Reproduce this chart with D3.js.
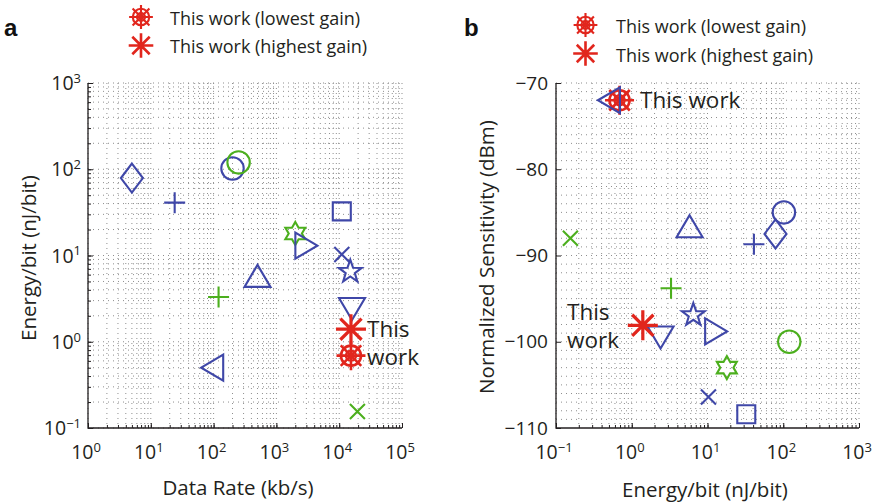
<!DOCTYPE html>
<html>
<head>
<meta charset="utf-8">
<script src="https://cdn.jsdelivr.net/npm/d3@7"></script>
<style>
  html, body { margin: 0; padding: 0; background: #fff; }
  svg { display: block; font-family: "Open Sans", "Noto Sans", sans-serif; }
</style>
</head>
<body>
<svg id="chart" width="875" height="504"></svg>
<script>
// Published receivers compared with this work (one entry per reference)
const markerShape = ["diamond", "plus", "circle", "circle", "square", "hexagram", "triRight", "cross",
  "pentagram", "triUp", "plus", "triDown", "asterisk", "wheel", "triLeft", "cross"];
const markerGroup = ["blue", "blue", "blue", "green", "blue", "green", "blue", "blue",
  "blue", "blue", "green", "blue", "red", "red", "blue", "green"];
const dataRate = [5, 24, 200, 250, 11000, 2000, 3000, 11000, 15000, 500, 120, 16000, 15400, 15400, 95, 19500];
const energyPerBit = [79, 41, 102, 120, 32.5, 18, 13, 10.3, 6.5, 5.8, 3.3, 2.4, 1.4, 0.69, 0.5, 0.155];
const sensitivity = [-87.5, -88.7, -85, -100, -108.4, -103, -98.8, -106.4, -96.9, -86.6, -93.8, -99.5, -98.1, -72, -72, -88];

const rateTicks = [1, 10, 100, 1000, 10000, 100000];
const energyTicksA = [0.1, 1, 10, 100, 1000];
const energyTicksB = [0.1, 1, 10, 100, 1000];
const sensTicks = [-110, -100, -90, -80, -70];

const legendLabels = ["This work (lowest gain)", "This work (highest gain)"];
const legendShapes = ["wheel", "asterisk"];

const colors = { blue: "#3f47a8", green: "#4caf1e", red: "#e1261d" };
const ink = "#231f20";

const svg = d3.select("#chart");

// Marker outlines, centred on the origin
function markerPath(shape) {
  const p = d3.path();
  const poly = pts => { pts.forEach((q, i) => i ? p.lineTo(q[0], q[1]) : p.moveTo(q[0], q[1])); p.closePath(); };
  const star = (n, R, r) => {
    const pts = [];
    for (let i = 0; i < 2 * n; i++) {
      const a = -Math.PI / 2 + i * Math.PI / n;
      const rr = i % 2 ? r : R;
      pts.push([rr * Math.cos(a), rr * Math.sin(a)]);
    }
    poly(pts);
  };
  switch (shape) {
    case "circle": p.moveTo(11.2, 0); p.arc(0, 0, 11.2, 0, 2 * Math.PI); break;
    case "square": p.rect(-9, -9, 18, 18); break;
    case "diamond": poly([[0, -14.5], [11, 0], [0, 14.5], [-11, 0]]); break;
    case "triUp": poly([[0, -11], [13, 11], [-13, 11]]); break;
    case "triDown": poly([[0, 11], [13, -11], [-13, -11]]); break;
    case "triRight": poly([[11, 0], [-11, -13], [-11, 13]]); break;
    case "triLeft": poly([[-11, 0], [11, -13], [11, 13]]); break;
    case "plus": p.moveTo(-10.5, 0); p.lineTo(10.5, 0); p.moveTo(0, -10.5); p.lineTo(0, 10.5); break;
    case "cross": p.moveTo(-7.5, -7.5); p.lineTo(7.5, 7.5); p.moveTo(-7.5, 7.5); p.lineTo(7.5, -7.5); break;
    case "pentagram": star(5, 12, 4.8); break;
    case "hexagram": star(6, 11.5, 6.6); break;
  }
  return p.toString();
}

function spokes(p, R) {
  for (let i = 0; i < 4; i++) {
    const a = i * Math.PI / 4;
    p.moveTo(-R * Math.cos(a), -R * Math.sin(a));
    p.lineTo(R * Math.cos(a), R * Math.sin(a));
  }
}

function drawMarker(g, shape, color, k = 1) {
  if (shape === "asterisk") {
    const p = d3.path(); spokes(p, 15 * k);
    g.append("path").attr("d", p.toString()).attr("fill", "none").attr("stroke", color).attr("stroke-width", 3.2 * k);
  } else if (shape === "wheel") {
    const p = d3.path(); spokes(p, 14.5 * k);
    g.append("path").attr("d", p.toString()).attr("fill", "none").attr("stroke", color).attr("stroke-width", 2.6 * k);
    g.append("circle").attr("r", 10 * k).attr("fill", "none").attr("stroke", color).attr("stroke-width", 2.6 * k);
    g.append("circle").attr("r", 5 * k).attr("fill", "none").attr("stroke", color).attr("stroke-width", 2.4 * k);
  } else {
    g.append("path").attr("d", markerPath(shape)).attr("fill", "none").attr("stroke", color)
      .attr("stroke-width", 2.1).attr("stroke-linejoin", "miter");
  }
}

// Tick label of the form 10^n
function powerLabel(sel, v) {
  const n = Math.round(Math.log10(v));
  sel.text(null);
  sel.append("tspan").text("10");
  sel.append("tspan").attr("dy", "-0.55em").attr("font-size", "13px").text(n < 0 ? "\u2212" + (-n) : n);
}

function logMinor(domain) {
  const vals = [];
  const lo = Math.round(Math.log10(domain[0])), hi = Math.round(Math.log10(domain[1]));
  for (let e = lo; e < hi; e++) for (let m = 1; m < 10; m++) vals.push(m * Math.pow(10, e));
  vals.push(Math.pow(10, hi));
  return vals;
}

function panel(opt) {
  const { left, right, top, bottom, x, y, xGrid, yGrid, xMinor, yMinor } = opt;
  const g = svg.append("g");
  const grid = g.append("g").attr("stroke", "#333").attr("stroke-width", 1)
    .attr("stroke-dasharray", "1,4").attr("opacity", 0.55);
  xGrid.forEach(v => grid.append("line").attr("x1", x(v)).attr("x2", x(v)).attr("y1", top).attr("y2", bottom));
  yGrid.forEach(v => grid.append("line").attr("x1", left).attr("x2", right).attr("y1", y(v)).attr("y2", y(v)));

  // inward axes on the left and bottom edges only
  const axisX = d3.axisTop(x).tickValues(opt.xTicks).tickSize(5).tickFormat("");
  const axisY = d3.axisRight(y).tickValues(opt.yTicks).tickSize(5).tickFormat("");
  const ax = g.append("g").attr("transform", `translate(0,${bottom})`).call(axisX);
  const ay = g.append("g").attr("transform", `translate(${left},0)`).call(axisY);
  [ax, ay].forEach(a => { a.select(".domain").remove(); a.selectAll("line").attr("stroke", ink).attr("stroke-width", 1); });
  if (xMinor) {
    const m = g.append("g").attr("transform", `translate(0,${bottom})`)
      .call(d3.axisTop(x).tickValues(xMinor).tickSize(3).tickFormat(""));
    m.select(".domain").remove(); m.selectAll("line").attr("stroke", ink);
  }
  if (yMinor) {
    const m = g.append("g").attr("transform", `translate(${left},0)`)
      .call(d3.axisRight(y).tickValues(yMinor).tickSize(3).tickFormat(""));
    m.select(".domain").remove(); m.selectAll("line").attr("stroke", ink);
  }
  g.append("path").attr("d", `M${left},${top}V${bottom}H${right}`).attr("fill", "none")
    .attr("stroke", ink).attr("stroke-width", 1.3);
  return g;
}

// ---------- Panel a: energy per bit versus data rate ----------
const xa = d3.scaleLog().domain([1, 1e5]).range([88, 402]);
const ya = d3.scaleLog().domain([0.1, 1000]).range([428, 83]);
const ga = panel({
  left: 88, right: 402, top: 83, bottom: 428, x: xa, y: ya,
  xGrid: logMinor([1, 1e5]), yGrid: logMinor([0.1, 1000]),
  xTicks: rateTicks, yTicks: energyTicksA,
  xMinor: logMinor([1, 1e5]), yMinor: logMinor([0.1, 1000])
});
ga.selectAll(".xt").data(rateTicks).join("text").attr("class", "xt")
  .attr("x", d => xa(d) - 2).attr("y", 459).attr("text-anchor", "middle")
  .attr("font-size", "19.5px").attr("fill", ink).each(function (d) { powerLabel(d3.select(this), d); });
ga.selectAll(".yt").data(energyTicksA).join("text").attr("class", "yt")
  .attr("x", 81).attr("y", d => ya(d) + 7).attr("text-anchor", "end")
  .attr("font-size", "19.5px").attr("fill", ink).each(function (d) { powerLabel(d3.select(this), d); });
ga.append("text").attr("x", 238).attr("y", 495).attr("text-anchor", "middle")
  .attr("font-size", "20.5px").attr("fill", ink).text("Data Rate (kb/s)");
ga.append("text").attr("transform", "translate(36,258) rotate(-90)").attr("text-anchor", "middle")
  .attr("font-size", "20.5px").attr("fill", ink).text("Energy/bit (nJ/bit)");

const ptsA = ga.append("g");
d3.range(dataRate.length).forEach(i => {
  const m = ptsA.append("g").attr("transform", `translate(${xa(dataRate[i])},${ya(energyPerBit[i])})`);
  drawMarker(m, markerShape[i], colors[markerGroup[i]]);
});
ga.append("text").attr("x", 367).attr("y", 337).attr("font-size", "22.5px").attr("fill", ink).text("This");
ga.append("text").attr("x", 367).attr("y", 365).attr("font-size", "22.5px").attr("fill", ink).text("work");

// ---------- Panel b: sensitivity versus energy per bit ----------
const xb = d3.scaleLog().domain([0.1, 1000]).range([556, 859]);
const yb = d3.scaleLinear().domain([-110, -70]).range([428, 83]);
const gb = panel({
  left: 556, right: 859, top: 83, bottom: 428, x: xb, y: yb,
  xGrid: logMinor([0.1, 1000]), yGrid: d3.range(-109, -69, 1),
  xTicks: energyTicksB, yTicks: sensTicks,
  xMinor: logMinor([0.1, 1000]), yMinor: null
});
gb.selectAll(".xt").data(energyTicksB).join("text").attr("class", "xt")
  .attr("x", d => xb(d) - 2).attr("y", 459).attr("text-anchor", "middle")
  .attr("font-size", "19.5px").attr("fill", ink).each(function (d) { powerLabel(d3.select(this), d); });
gb.selectAll(".yt").data(sensTicks).join("text").attr("class", "yt")
  .attr("x", 548).attr("y", d => yb(d) + 6.5).attr("text-anchor", "end")
  .attr("font-size", "19px").attr("fill", ink).text(d => "\u2212" + Math.abs(d));
gb.append("text").attr("x", 705).attr("y", 497).attr("text-anchor", "middle")
  .attr("font-size", "20.5px").attr("fill", ink).text("Energy/bit (nJ/bit)");
gb.append("text").attr("transform", "translate(494,257) rotate(-90)").attr("text-anchor", "middle")
  .attr("font-size", "20.5px").attr("fill", ink).text("Normalized Sensitivity (dBm)");

const ptsB = gb.append("g");
d3.range(energyPerBit.length).forEach(i => {
  const m = ptsB.append("g").attr("transform", `translate(${xb(energyPerBit[i])},${yb(sensitivity[i])})`);
  drawMarker(m, markerShape[i], colors[markerGroup[i]]);
});
gb.append("text").attr("x", 640).attr("y", 108).attr("font-size", "22.5px").attr("fill", ink).text("This work");
gb.append("text").attr("x", 567).attr("y", 320).attr("font-size", "22.5px").attr("fill", ink).text("This");
gb.append("text").attr("x", 567).attr("y", 348).attr("font-size", "22.5px").attr("fill", ink).text("work");

// ---------- Legends and panel letters ----------
function legend(mx, my, tx, dy) {
  legendLabels.forEach((t, i) => {
    const m = svg.append("g").attr("transform", `translate(${mx},${my + i * 28.5})`);
    drawMarker(m, legendShapes[i], colors.red, 0.82);
    svg.append("text").attr("x", tx).attr("y", my + i * 28.5 + dy).attr("font-size", "18px")
      .attr("fill", ink).text(t);
  });
}
legend(141, 17, 170, 7.5);
legend(585.5, 25, 616, 8);
svg.append("text").attr("x", 4).attr("y", 36).attr("font-size", "24px").attr("font-weight", "bold")
  .attr("font-family", "Liberation Sans, Arial, sans-serif").attr("fill", "#111").text("a");
svg.append("text").attr("x", 464).attr("y", 36).attr("font-size", "24px").attr("font-weight", "bold")
  .attr("font-family", "Liberation Sans, Arial, sans-serif").attr("fill", "#111").text("b");
</script>
</body>
</html>
